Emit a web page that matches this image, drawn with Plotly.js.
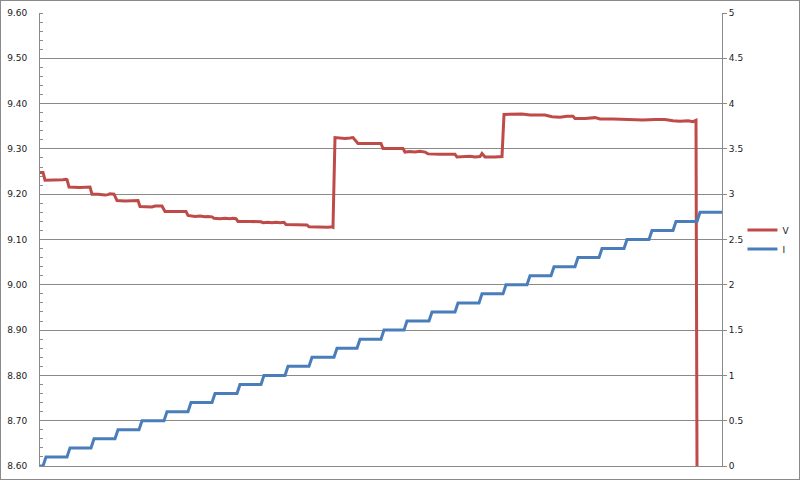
<!DOCTYPE html>
<html>
<head>
<meta charset="utf-8">
<script src="https://cdn.plot.ly/plotly-3.0.1.min.js"></script>
<style>
  html, body { margin: 0; padding: 0; background: #ffffff; }
  #chart { width: 800px; height: 480px; box-sizing: border-box; border: 1px solid #8a8a8a; }
</style>
</head>
<body>
<div id="chart"></div>
<script>
// Sample index (no x labels in the original chart)
const vX = [0, 3, 5, 16, 23, 26, 27, 29, 40, 50, 52, 58, 62, 65, 68, 70, 74, 77, 85, 98,
  100, 112, 115, 122, 125, 135, 140, 146, 148, 155, 160, 165, 168, 172, 174, 180, 185, 190, 193, 196,
  198, 210, 221, 223, 228, 232, 236, 240, 244, 246, 255, 267, 269, 278, 283, 288, 292, 293,
  295, 300, 305, 310, 313, 318, 330, 341, 343, 355, 363, 365, 370, 375, 380, 385, 388, 400, 415,
  417, 425, 430, 435, 440, 442, 445, 455, 462,
  464, 475, 482, 490, 505, 512, 520, 527, 533, 535, 545, 555, 560, 573, 585, 595, 603, 615, 625,
  633, 640, 648, 653, 656, 657];
const vY = [9.248, 9.248, 9.231, 9.231, 9.232, 9.233, 9.232, 9.216, 9.215, 9.216, 9.200, 9.200, 9.199, 9.198, 9.199, 9.201, 9.200, 9.186, 9.185, 9.186,
  9.173, 9.172, 9.174, 9.174, 9.162, 9.161, 9.162, 9.162, 9.153, 9.151, 9.152, 9.150, 9.151, 9.150, 9.147, 9.146, 9.147, 9.146, 9.147, 9.146,
  9.140, 9.140, 9.139, 9.137, 9.138, 9.137, 9.138, 9.137, 9.138, 9.133, 9.132, 9.132, 9.128, 9.127, 9.128, 9.127, 9.128, 9.127,
  9.325, 9.324, 9.323, 9.324, 9.325, 9.312, 9.312, 9.312, 9.301, 9.301, 9.301, 9.293, 9.294, 9.293, 9.295, 9.293, 9.289, 9.288, 9.288,
  9.282, 9.283, 9.284, 9.282, 9.283, 9.290, 9.282, 9.282, 9.283,
  9.376, 9.376, 9.377, 9.375, 9.375, 9.371, 9.370, 9.372, 9.372, 9.367, 9.367, 9.369, 9.366, 9.366, 9.365, 9.365, 9.364, 9.365, 9.365,
  9.362, 9.361, 9.362, 9.360, 9.363, 8.600];

const iX = [0, 3, 6, 27, 30, 51, 54, 75, 78, 99, 102, 124, 127, 148, 151, 172, 175, 197, 200, 221,
  224, 245, 248, 269, 272, 294, 297, 317, 320, 341, 344, 364, 367, 389, 392, 415, 418, 439, 442, 463,
  466, 487, 490, 511, 514, 535, 538, 559, 562, 584, 587, 609, 612, 633, 636, 657, 660, 682];
const iY = [0, 0, 0.1, 0.1, 0.2, 0.2, 0.3, 0.3, 0.4, 0.4, 0.5, 0.5, 0.6, 0.6, 0.7, 0.7, 0.8, 0.8, 0.9, 0.9,
  1.0, 1.0, 1.1, 1.1, 1.2, 1.2, 1.3, 1.3, 1.4, 1.4, 1.5, 1.5, 1.6, 1.6, 1.7, 1.7, 1.8, 1.8, 1.9, 1.9,
  2.0, 2.0, 2.1, 2.1, 2.2, 2.2, 2.3, 2.3, 2.4, 2.4, 2.5, 2.5, 2.6, 2.6, 2.7, 2.7, 2.8, 2.8];

const seriesNames = ['V', 'I'];
const vTicks = [8.6, 8.7, 8.8, 8.9, 9.0, 9.1, 9.2, 9.3, 9.4, 9.5, 9.6];
const iTicks = [0, 0.5, 1, 1.5, 2, 2.5, 3, 3.5, 4, 4.5, 5];

const RED = '#be4b48';
const BLUE = '#4a7ebb';
const GRID = '#8a8a8a';
const FONT = 'DejaVu Sans, Verdana, sans-serif';

const traces = [
  {
    x: iX, y: iY, name: seriesNames[1], type: 'scatter', mode: 'lines',
    yaxis: 'y2', line: {color: BLUE, width: 3}, legendrank: 2, hoverinfo: 'skip'
  },
  {
    x: vX, y: vY, name: seriesNames[0], type: 'scatter', mode: 'lines',
    yaxis: 'y', line: {color: RED, width: 3}, legendrank: 1, hoverinfo: 'skip'
  }
];

const layout = {
  width: 798, height: 478,
  margin: {l: 39, r: 77, t: 12, b: 13, pad: 0, autoexpand: false},
  paper_bgcolor: '#ffffff', plot_bgcolor: '#ffffff',
  font: {family: FONT, size: 9, color: '#1a1a1a'},
  showlegend: true,
  legend: {
    x: 1.03, xanchor: 'left', y: 0.5, yanchor: 'middle',
    font: {family: FONT, size: 9, color: '#1a1a1a'},
    bgcolor: 'rgba(0,0,0,0)', borderwidth: 0, tracegroupgap: 0
  },
  xaxis: {
    range: [0, 682], showticklabels: false, ticks: '', showgrid: false, zeroline: false,
    showline: true, linecolor: GRID, linewidth: 1, fixedrange: true
  },
  yaxis: {
    range: [8.6, 9.6], tickvals: vTicks, tickformat: '.2f',
    showgrid: true, gridcolor: GRID, gridwidth: 1, zeroline: false,
    showline: true, linecolor: GRID, linewidth: 1,
    ticks: 'outside', ticklen: 10, tickcolor: 'rgba(0,0,0,0)',
    minor: {dtick: 0.02, ticks: 'inside', ticklen: 3, tickcolor: GRID, tickwidth: 1, showgrid: false},
    tickfont: {family: FONT, size: 9, color: '#1a1a1a'}, fixedrange: true
  },
  yaxis2: {
    range: [0, 5], tickvals: iTicks, overlaying: 'y', side: 'right',
    showgrid: false, zeroline: false, showline: true, linecolor: GRID, linewidth: 1,
    ticks: 'outside', ticklen: 4, tickcolor: GRID, tickwidth: 1,
    tickfont: {family: FONT, size: 9, color: '#1a1a1a'}, fixedrange: true
  }
};

Plotly.newPlot('chart', traces, layout, {displayModeBar: false, staticPlot: true});
</script>
</body>
</html>
